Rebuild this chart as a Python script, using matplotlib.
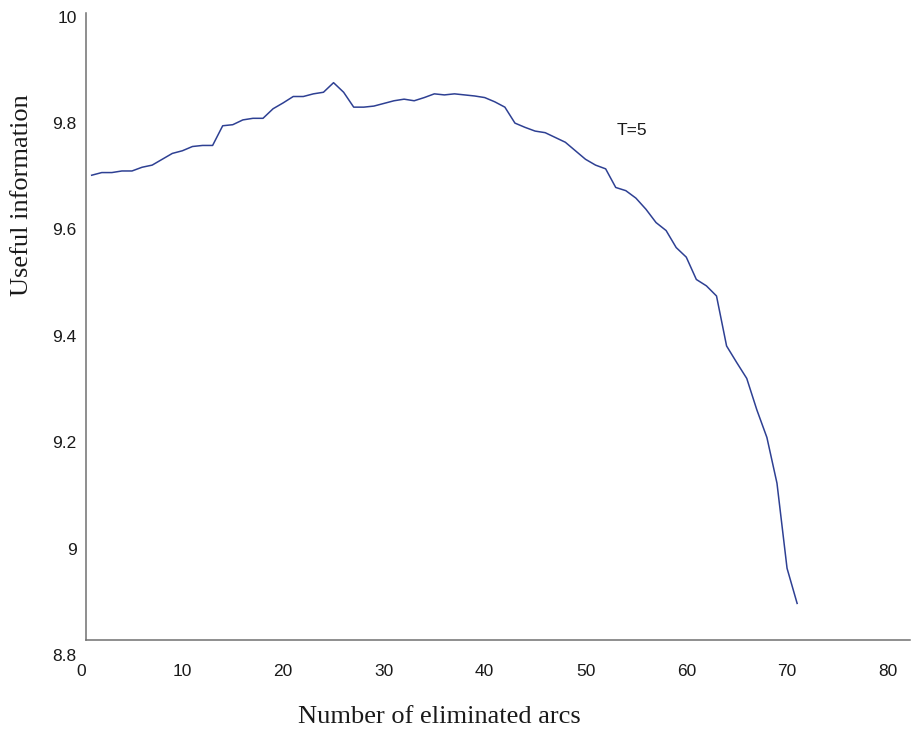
import matplotlib
matplotlib.use("Agg")
import matplotlib.pyplot as plt

# Data
arcs = list(range(1, 72))
useful_info = [
    9.702, 9.707, 9.707, 9.710, 9.710, 9.717, 9.721, 9.732, 9.743, 9.748,
    9.756, 9.758, 9.758, 9.795, 9.797, 9.806, 9.809, 9.809, 9.827, 9.838,
    9.850, 9.850, 9.855, 9.858, 9.876, 9.858, 9.830, 9.830, 9.832, 9.837,
    9.842, 9.845, 9.842, 9.848, 9.855, 9.853, 9.855, 9.853, 9.851, 9.848,
    9.840, 9.830, 9.800, 9.792, 9.785, 9.782, 9.773, 9.764, 9.748, 9.732,
    9.721, 9.714, 9.679, 9.673, 9.659, 9.638, 9.613, 9.598, 9.566, 9.548,
    9.506, 9.494, 9.475, 9.381, 9.350, 9.320, 9.261, 9.209, 9.123, 8.963,
    8.897,
]
x_ticks = [0, 10, 20, 30, 40, 50, 60, 70, 80]
y_ticks = [8.8, 9.0, 9.2, 9.4, 9.6, 9.8, 10.0]
y_tick_labels = ["8.8", "9", "9.2", "9.4", "9.6", "9.8", "10"]
series_label = "T=5"

W, H = 911, 731
fig = plt.figure(figsize=(W / 100, H / 100), dpi=100)
left_px, right_px = 81.6, 910
top_px, bottom_px = 13, 655
ax = fig.add_axes([left_px / W, 1 - bottom_px / H,
                   (right_px - left_px) / W, (bottom_px - top_px) / H])

ax.plot(arcs, useful_info, color="#2E4093", linewidth=1.1)

ax.set_xlim(0, 82.2)
ax.set_ylim(8.8, 10.007)

spine_col = "#707070"
for s in ["top", "right"]:
    ax.spines[s].set_visible(False)
ax.spines["left"].set_position(("data", 0.4))
ax.spines["bottom"].set_position(("data", 8.828))
ax.spines["left"].set_bounds(8.828, 10.007)
ax.spines["bottom"].set_bounds(0.4, 82.2)
for s in ["left", "bottom"]:
    ax.spines[s].set_color(spine_col)
    ax.spines[s].set_linewidth(1.1)

sans = "Liberation Sans"
serif = "Liberation Serif"
ax.set_xticks(x_ticks)
ax.set_xticklabels([str(v) for v in x_ticks], fontfamily=sans, fontsize=12.5)
ax.set_yticks(y_ticks)
ax.set_yticklabels(y_tick_labels, fontfamily=sans, fontsize=12.5)
ax.tick_params(axis="x", length=0, pad=17, colors="#1a1a1a")
ax.tick_params(axis="y", length=0, pad=6.5, colors="#1a1a1a")

ax.set_xlabel("Number of eliminated arcs", fontfamily=serif, fontsize=19, color="#1a1a1a")
ax.xaxis.set_label_coords((439 - left_px) / (right_px - left_px),
                          -(717 - bottom_px) / (bottom_px - top_px))
ax.xaxis.label.set_va("center")
ax.set_ylabel("Useful information", fontfamily=serif, fontsize=19, color="#1a1a1a")
ax.yaxis.set_label_coords((22 - left_px) / (right_px - left_px),
                          (bottom_px - 195) / (bottom_px - top_px))
ax.yaxis.label.set_va("center")

ax.text(54.6, 9.787, series_label, fontfamily=sans, fontsize=12.5,
        ha="center", va="center", color="#1a1a1a")

fig.savefig("out.png", dpi=100)
